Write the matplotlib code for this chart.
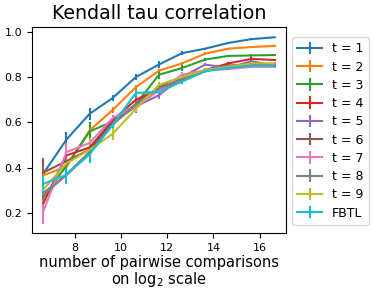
import numpy as np
import matplotlib
matplotlib.use('Agg')
import matplotlib.pyplot as plt

# x轴: log2(比较次数)
n_comparisons = [100, 200, 400, 800, 1600, 3200, 6400, 12800, 25600, 51200, 102400]
labels = ['t = 1', 't = 2', 't = 3', 't = 4', 't = 5', 't = 6', 't = 7', 't = 8', 't = 9', 'FBTL']

# 各条曲线的均值
t1 = [0.375, 0.525, 0.638, 0.708, 0.800, 0.855, 0.905, 0.925, 0.950, 0.967, 0.975]
t2 = [0.368, 0.405, 0.565, 0.655, 0.755, 0.828, 0.860, 0.903, 0.925, 0.932, 0.937]
t3 = [0.270, 0.410, 0.560, 0.605, 0.680, 0.810, 0.840, 0.877, 0.893, 0.895, 0.897]
t4 = [0.245, 0.455, 0.490, 0.610, 0.700, 0.745, 0.790, 0.830, 0.860, 0.880, 0.875]
t5 = [0.290, 0.370, 0.470, 0.600, 0.670, 0.720, 0.800, 0.855, 0.840, 0.870, 0.850]
t6 = [0.380, 0.430, 0.480, 0.600, 0.680, 0.755, 0.800, 0.830, 0.850, 0.855, 0.855]
t7 = [0.210, 0.470, 0.510, 0.620, 0.670, 0.740, 0.810, 0.830, 0.835, 0.845, 0.845]
t8 = [0.280, 0.370, 0.470, 0.590, 0.680, 0.750, 0.790, 0.830, 0.850, 0.855, 0.855]
t9 = [0.305, 0.420, 0.480, 0.550, 0.660, 0.765, 0.800, 0.830, 0.845, 0.860, 0.860]
fbtl = [0.330, 0.370, 0.460, 0.590, 0.730, 0.735, 0.780, 0.825, 0.840, 0.850, 0.850]

# 误差棒
e1 = [0.010, 0.035, 0.025, 0.012, 0.012, 0.015, 0.008, 0.005, 0.004, 0.003, 0.003]
e2 = [0.010, 0.010, 0.010, 0.012, 0.010, 0.008, 0.008, 0.008, 0.004, 0.004, 0.003]
e3 = [0.015, 0.020, 0.040, 0.010, 0.015, 0.020, 0.015, 0.005, 0.005, 0.005, 0.004]
e4 = [0.020, 0.015, 0.015, 0.015, 0.010, 0.015, 0.010, 0.008, 0.008, 0.008, 0.004]
e5 = [0.020, 0.015, 0.015, 0.015, 0.020, 0.015, 0.010, 0.008, 0.006, 0.006, 0.004]
e6 = [0.065, 0.015, 0.015, 0.015, 0.015, 0.010, 0.015, 0.008, 0.006, 0.004, 0.004]
e7 = [0.055, 0.040, 0.015, 0.015, 0.015, 0.010, 0.010, 0.008, 0.006, 0.004, 0.004]
e8 = [0.020, 0.015, 0.015, 0.020, 0.040, 0.015, 0.015, 0.008, 0.006, 0.006, 0.004]
e9 = [0.020, 0.015, 0.050, 0.025, 0.015, 0.015, 0.010, 0.008, 0.006, 0.006, 0.004]
ef = [0.040, 0.040, 0.040, 0.015, 0.015, 0.010, 0.010, 0.008, 0.006, 0.004, 0.004]

means = [t1, t2, t3, t4, t5, t6, t7, t8, t9, fbtl]
errs = [e1, e2, e3, e4, e5, e6, e7, e8, e9, ef]

x = np.log2(n_comparisons)

fig = plt.figure(figsize=(3.74, 2.93), dpi=100)
ax = fig.add_axes([0.085, 0.205, 0.68, 0.702])

for m, e, lab in zip(means, errs, labels):
    ax.errorbar(x, m, yerr=e, label=lab, lw=1.5)

ax.set_title('Kendall tau correlation', fontsize=13.7)
ax.set_xlabel('number of pairwise comparisons\non log$_2$ scale', fontsize=10.5, labelpad=2, linespacing=1.0)
ax.set_xticks([8, 10, 12, 14, 16])
ax.set_yticks([0.2, 0.4, 0.6, 0.8, 1.0])
ax.tick_params(labelsize=8)
# 图例放在坐标轴右侧
ax.legend(loc='upper left', bbox_to_anchor=(1.024, 0.951), borderaxespad=0,
          fontsize=9, labelspacing=0.42)

fig.savefig('out.png', dpi=100)
